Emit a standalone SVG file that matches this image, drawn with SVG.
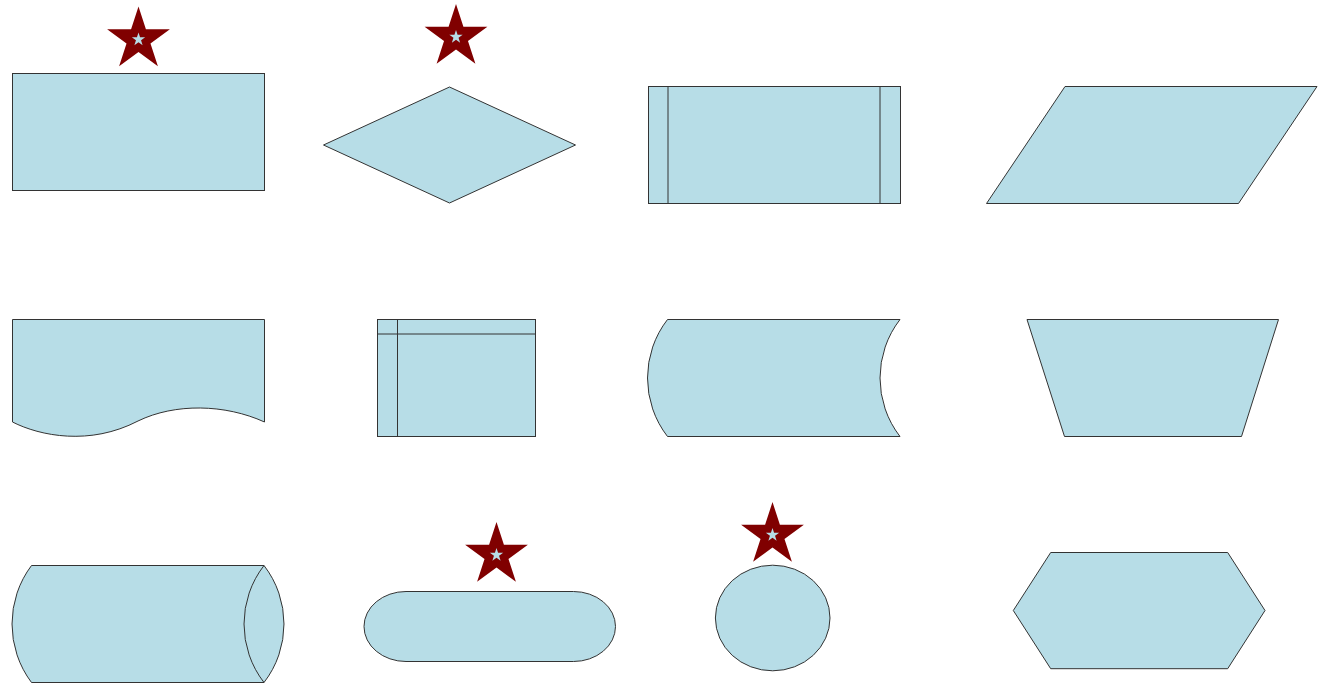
<svg xmlns="http://www.w3.org/2000/svg" xmlns:xlink="http://www.w3.org/1999/xlink" width="1319" height="683" viewBox="0 0 1319 683">
<style>
.s{fill:#b7dde7;stroke:#333;stroke-width:1}
.l{fill:none;stroke:#333;stroke-width:1}
.star{fill:#800000;stroke:none}
.mini{fill:#b7dde7;stroke:none}
</style>
<defs>
<g id="badge">
<polygon class="star" points="0,-33 7.41,-10.19 31.39,-10.2 11.98,3.89 19.4,26.7 0,12.6 -19.4,26.7 -11.98,3.89 -31.39,-10.2 -7.41,-10.19"/>
<polygon class="mini" points="0,-7 1.57,-2.16 6.66,-2.16 2.54,0.83 4.11,5.66 0,2.67 -4.11,5.66 -2.54,0.83 -6.66,-2.16 -1.57,-2.16"/>
</g>
</defs>
<rect width="1319" height="683" fill="#fff"/>
<g id="process">
<rect class="s" x="12.5" y="73.5" width="252" height="117"/>
<use xlink:href="#badge" href="#badge" x="138.5" y="39.5"/>
</g>
<g id="decision">
<polygon class="s" points="323.5,145 449.5,87 575.5,145 449.5,203"/>
<use xlink:href="#badge" href="#badge" x="456" y="37"/>
</g>
<g id="predefined-process">
<rect class="s" x="648.5" y="86.5" width="252" height="117"/>
<line class="l" x1="668" y1="86.5" x2="668" y2="203.5"/>
<line class="l" x1="880" y1="86.5" x2="880" y2="203.5"/>
</g>
<g id="data">
<polygon class="s" points="1065,86.5 1317,86.5 1238.5,203.5 986.5,203.5"/>
</g>
<g id="document">
<path class="s" d="M12.5,319.5 L264.5,319.5 L264.5,422 C225,404 175,403 138,421 C90,446 40,436 12.5,422 Z"/>
</g>
<g id="internal-storage">
<rect class="s" x="377.5" y="319.5" width="158" height="117"/>
<line class="l" x1="377.5" y1="334" x2="535.5" y2="334"/>
<line class="l" x1="397.5" y1="319.5" x2="397.5" y2="436.5"/>
</g>
<g id="stored-data">
<path class="s" d="M667.5,319.5 L900,319.5 A95.6,95.6 0 0 0 900,436.5 L667.5,436.5 A95.6,95.6 0 0 1 667.5,319.5 Z"/>
</g>
<g id="manual-operation">
<polygon class="s" points="1027,319.5 1278.5,319.5 1241.5,436.5 1064.5,436.5"/>
</g>
<g id="direct-access-storage">
<path class="s" d="M31.5,565.5 L264,565.5 A95.6,95.6 0 0 1 264,682.5 L31.5,682.5 A97.5,97.5 0 0 1 31.5,565.5 Z"/>
<path class="l" d="M264,565.5 A95.6,95.6 0 0 0 264,682.5"/>
</g>
<g id="terminator">
<rect class="s" x="364" y="591.5" width="251.5" height="70" rx="42" ry="35"/>
<use xlink:href="#badge" href="#badge" x="496.5" y="555"/>
</g>
<g id="connector">
<ellipse class="s" cx="772.7" cy="618" rx="57.3" ry="52.8"/>
<use xlink:href="#badge" href="#badge" x="772.5" y="535"/>
</g>
<g id="preparation">
<polygon class="s" points="1013.3,610.5 1050.7,552.5 1227.7,552.5 1265,610.5 1227.7,668.7 1050.7,668.7"/>
</g>
<g id="connectors"></g>
</svg>
